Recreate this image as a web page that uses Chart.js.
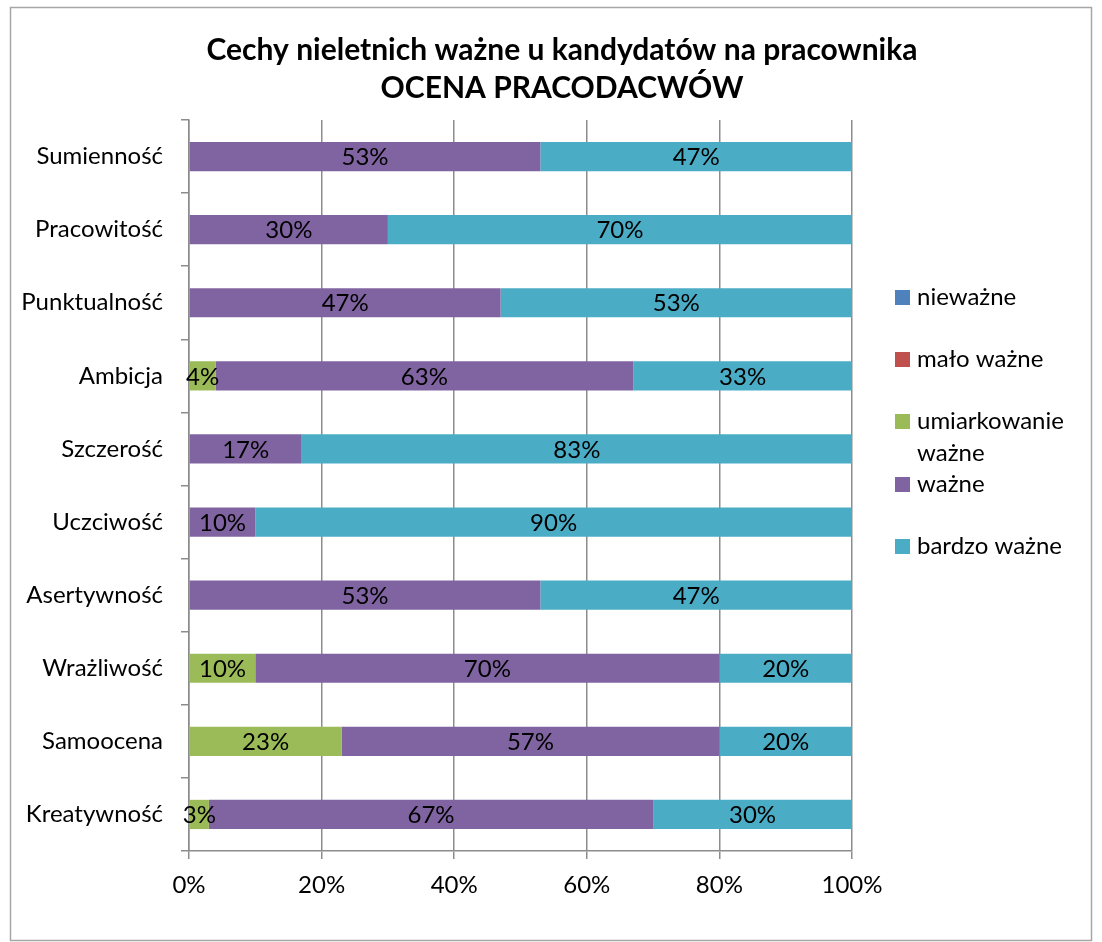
<!DOCTYPE html>
<html lang="pl">
<head>
<meta charset="utf-8">
<title>Cechy nieletnich ważne u kandydatów na pracownika</title>
<script src="https://cdn.jsdelivr.net/npm/chart.js@4"></script>
<style>
  body { margin: 0; background: #fff; }
  #ocena { display: block; }
</style>
</head>
<body>
<canvas id="ocena" width="1102" height="942"></canvas>
<script>
// cechy (od góry)
const cechy = [
  "Sumienność", "Pracowitość", "Punktualność", "Ambicja", "Szczerość",
  "Uczciwość", "Asertywność", "Wrażliwość", "Samoocena", "Kreatywność"
]

// udział odpowiedzi w %
const niewazne     = [0, 0, 0, 0, 0, 0, 0, 0, 0, 0]
const maloWazne    = [0, 0, 0, 0, 0, 0, 0, 0, 0, 0]
const umiarkowanie = [0, 0, 0, 4, 0, 0, 0, 10, 23, 3]
const wazne        = [53, 30, 47, 63, 17, 10, 53, 70, 57, 67]
const bardzoWazne  = [47, 70, 53, 33, 83, 90, 47, 20, 20, 30]

const seriesNames = ["nieważne", "mało ważne", "umiarkowanie ważne", "ważne", "bardzo ważne"]
const seriesColors = ["#4F81BD", "#C0504D", "#9BBB59", "#8064A2", "#4BACC6"]
const xTicks = [0, 20, 40, 60, 80, 100]

const titleLines = ["Cechy nieletnich ważne u kandydatów na pracownika", "OCENA PRACODACWÓW"]
const FONT = "Lato, 'Open Sans', sans-serif"

const datasets = [niewazne, maloWazne, umiarkowanie, wazne, bardzoWazne].map((values, i) => ({
  label: seriesNames[i],
  data: values,
  backgroundColor: seriesColors[i],
  borderWidth: 0,
  categoryPercentage: 1,
  barPercentage: 0.4,
}))

// white background, frame and title
const framePlugin = {
  id: "frame",
  beforeDraw(chart) {
    const ctx = chart.ctx
    ctx.save()
    ctx.fillStyle = "#fff"
    ctx.fillRect(0, 0, chart.width, chart.height)
    ctx.strokeStyle = "#a6a6a6"
    ctx.lineWidth = 1.5
    ctx.strokeRect(10.5, 7.5, 1081, 933)
    ctx.fillStyle = "#000"
    ctx.font = "bold 30px " + FONT
    ctx.textAlign = "center"
    ctx.textBaseline = "middle"
    ctx.fillText(titleLines[0], 562, 50)
    ctx.fillText(titleLines[1], 562, 88)
    ctx.restore()
  },
}

// percentage labels inside the segments
const valueLabels = {
  id: "valueLabels",
  afterDatasetsDraw(chart) {
    const ctx = chart.ctx
    ctx.save()
    ctx.font = "24px " + FONT
    ctx.fillStyle = "#000"
    ctx.textAlign = "center"
    ctx.textBaseline = "middle"
    chart.data.datasets.forEach((ds, di) => {
      chart.getDatasetMeta(di).data.forEach((bar, i) => {
        const v = ds.data[i]
        if (!v) return
        const cx = (bar.x + bar.base) / 2
        ctx.fillText(v + "%", cx, bar.y + 1)
      })
    })
    ctx.restore()
  },
}

// legend on the right, "umiarkowanie ważne" wraps onto two lines
const sideLegend = {
  id: "sideLegend",
  afterDraw(chart) {
    const ctx = chart.ctx
    const rows = [
      { lines: ["nieważne"], y: 297 },
      { lines: ["mało ważne"], y: 359 },
      { lines: ["umiarkowanie", "ważne"], y: 421 },
      { lines: ["ważne"], y: 484 },
      { lines: ["bardzo ważne"], y: 546 },
    ]
    ctx.save()
    ctx.font = "24px " + FONT
    ctx.textAlign = "left"
    ctx.textBaseline = "middle"
    rows.forEach((row, i) => {
      ctx.fillStyle = seriesColors[i]
      ctx.fillRect(895, row.y - 7, 15, 15)
      ctx.fillStyle = "#000"
      row.lines.forEach((t, k) => ctx.fillText(t, 917, row.y + k * 32))
    })
    ctx.restore()
  },
}

new Chart(document.getElementById("ocena"), {
  type: "bar",
  data: { labels: cechy, datasets },
  plugins: [framePlugin, valueLabels, sideLegend],
  options: {
    responsive: false,
    animation: false,
    indexAxis: "y",
    layout: { padding: { top: 120, left: 0, right: 250, bottom: 0 } },
    plugins: {
      legend: { display: false },
      title: { display: false },
      tooltip: { enabled: false },
    },
    scales: {
      x: {
        stacked: true,
        min: 0,
        max: 100,
        afterBuildTicks: (axis) => { axis.ticks = xTicks.map((v) => ({ value: v })) },
        afterFit: (axis) => { axis.height = 91 },
        grid: { color: "#8c8c8c", lineWidth: 1.5, tickLength: 8 },
        border: { color: "#8c8c8c", width: 1.5 },
        ticks: {
          color: "#000",
          font: { family: FONT, size: 24 },
          padding: 12,
          maxRotation: 0,
          callback: (v) => v + "%",
        },
      },
      y: {
        stacked: true,
        afterFit: (axis) => { axis.width = 189 },
        grid: { drawOnChartArea: false, color: "#8c8c8c", lineWidth: 1.5, tickLength: 8, offset: true },
        border: { color: "#8c8c8c", width: 1.5 },
        ticks: {
          color: "#000",
          font: { family: FONT, size: 24 },
          padding: 18,
        },
      },
    },
  },
})
</script>
</body>
</html>
